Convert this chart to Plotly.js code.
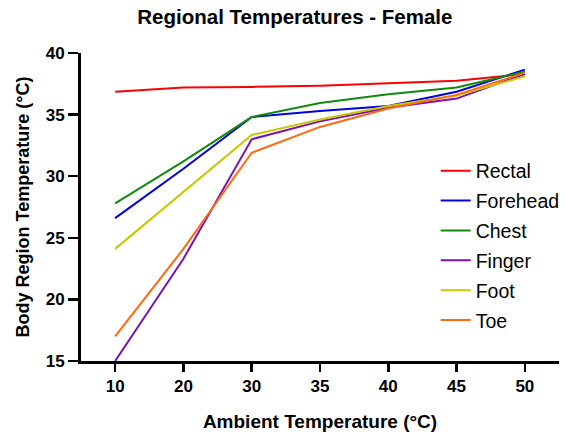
<!DOCTYPE html>
<html>
<head>
<meta charset="utf-8">
<script src="https://cdn.plot.ly/plotly-3.0.1.min.js"></script>
<style>html,body{margin:0;padding:0;background:#fff;}#chart{width:566px;height:434px;}</style>
</head>
<body>
<div id="chart"></div>
<script>
const ambient = ["10", "20", "30", "35", "40", "45", "50"];
const rectal   = [36.85, 37.2, 37.25, 37.35, 37.55, 37.75, 38.3];
const forehead = [26.6, 30.6, 34.8, 35.3, 35.7, 36.85, 38.65];
const chest    = [27.8, 31.2, 34.8, 35.95, 36.65, 37.2, 38.5];
const finger   = [15.0, 23.3, 33.0, 34.45, 35.55, 36.3, 38.3];
const foot     = [24.1, 28.7, 33.35, 34.6, 35.7, 36.55, 38.1];
const toe      = [17.0, 24.1, 31.9, 34.0, 35.5, 36.6, 38.4];
const seriesNames = ["Rectal", "Forehead", "Chest", "Finger", "Foot", "Toe"];
const seriesData = [rectal, forehead, chest, finger, foot, toe];
const colors = ["#ff0000", "#0000dd", "#108a10", "#7a10b8", "#c8c800", "#ff6a10"];

const traces = seriesNames.map((n, i) => ({
  type: "scatter", mode: "lines", name: n, legendgroup: n,
  x: ambient, y: seriesData[i],
  line: {color: colors[i], width: 2}
}));

const font = "Liberation Sans, Arial, sans-serif";
const layout = {
  width: 566, height: 434,
  margin: {l: 81, r: 7, t: 53, b: 73, autoexpand: false},
  paper_bgcolor: "#fff", plot_bgcolor: "#fff",
  font: {family: font, color: "#000"},
  title: {text: "<b>Regional Temperatures - Female</b>", font: {size: 20.5, family: font, color: "#000"},
          x: 0.521, xanchor: "center", xref: "container", y: 0.961, yref: "container", yanchor: "middle"},
  xaxis: {
    type: "category", range: [-0.5, 6.5], automargin: false,
    showline: true, linecolor: "#000", linewidth: 3, showgrid: false, zeroline: false,
    ticks: "outside", ticklen: 8, tickwidth: 2.5, tickcolor: "#000",
    tickfont: {size: 17, family: font, weight: "bold", color: "#000"},
    title: {text: "<b>Ambient Temperature (°C)</b>", font: {size: 19, family: font, color: "#000"}, standoff: 20}
  },
  yaxis: {
    range: [15, 40], tickvals: [15, 20, 25, 30, 35, 40], automargin: false,
    showline: true, linecolor: "#000", linewidth: 3, showgrid: false, zeroline: false,
    ticks: "outside", ticklen: 10, tickwidth: 2.5, tickcolor: "#000",
    tickfont: {size: 17, family: font, weight: "bold", color: "#000"},
    title: {text: "<b>Body Region Temperature (°C)</b>", font: {size: 18, family: font, color: "#000"}, standoff: 12}
  },
  showlegend: true,
  legend: {x: 0.742, y: 0.68, xanchor: "left", yanchor: "top", bgcolor: "rgba(0,0,0,0)",
           font: {size: 19.5, family: font, color: "#000"}, tracegroupgap: 1.5}
};
Plotly.newPlot("chart", traces, layout, {displayModeBar: false, staticPlot: true});
</script>
</body>
</html>
